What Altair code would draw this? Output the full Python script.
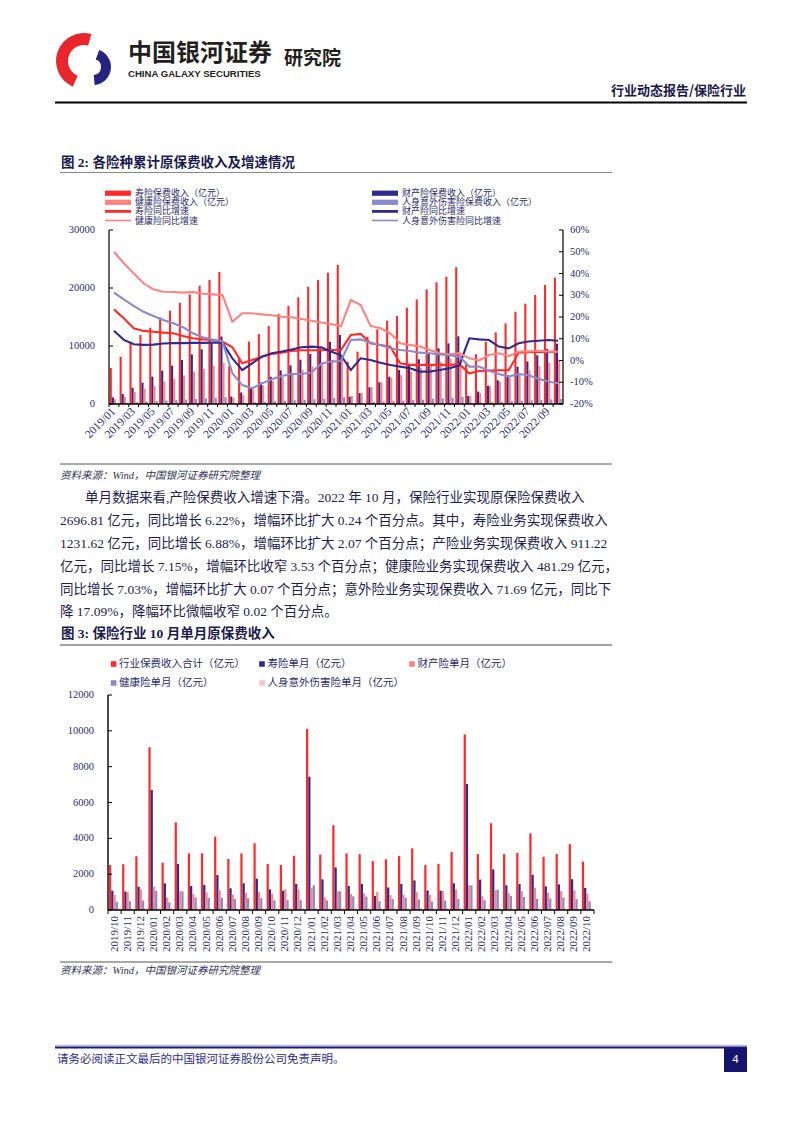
import altair as alt
import pandas as pd

OX, OY = 8, 8
W, H = 786, 1105
def X(v): return v - OX
def Y(v): return v - OY

RED = "#FF2B2B"; NAVY = "#2E2B8C"; SALMON = "#FF8282"; LAV = "#8C8AC8"; LAV2 = "#8D8BC0"; PINK = "#F7C3CB"
AX = "#2B2B6B"
TXT = "#1E1E50"
SERIF = "Liberation Serif, Noto Sans CJK SC"
CJK = "Noto Sans CJK SC"

# ---------------- chart 1 data (cumulative, 亿元 / YoY %) ----------------
months1 = ["2019/01","2019/02","2019/03","2019/04","2019/05","2019/06","2019/07","2019/08","2019/09","2019/10","2019/11","2019/12",
           "2020/01","2020/02","2020/03","2020/04","2020/05","2020/06","2020/07","2020/08","2020/09","2020/10","2020/11","2020/12",
           "2021/01","2021/02","2021/03","2021/04","2021/05","2021/06","2021/07","2021/08","2021/09","2021/10","2021/11","2021/12",
           "2022/01","2022/02","2022/03","2022/04","2022/05","2022/06","2022/07","2022/08","2022/09","2022/10"]
x1_labels = months1[::2]
life_cum = [6200, 8150, 10740, 11900, 13160, 14940, 16090, 17470, 18900, 20400, 21380, 22754,
            6580, 8040, 10760, 12070, 13450, 15520, 16900, 18390, 20230, 21380, 22640, 23982,
            7300, 9020, 11610, 12870, 14370, 15170, 16610, 18050, 19770, 20980, 21950, 23572,
            6880, 8570, 10740, 12360, 13910, 15920, 17300, 18790, 20520, 21780]
prop_cum = [1150, 1720, 2810, 3670, 4710, 5750, 6610, 7590, 8570, 9430, 10460, 11649,
            1280, 1990, 2830, 3700, 4700, 5790, 6660, 7650, 8640, 9600, 10720, 11929,
            1250, 1880, 2870, 3740, 4710, 5860, 6720, 7700, 8740, 9600, 10460, 11671,
            1380, 2150, 3150, 4100, 5000, 6430, 7350, 8400, 9500, 10400]
health_cum = [820, 1240, 2080, 2630, 3180, 3860, 4370, 4950, 5590, 6050, 6540, 7066,
              1070, 1500, 2540, 3240, 3920, 4590, 5200, 5860, 6520, 7060, 7620, 8173,
              1380, 1920, 2960, 3720, 4470, 4960, 5570, 6240, 6830, 7300, 7830, 8447,
              1370, 1920, 3060, 3840, 4560, 5180, 5820, 6520, 7130, 7610]
acc_cum = [120, 210, 320, 420, 510, 600, 680, 770, 870, 960, 1070, 1175,
           110, 190, 290, 380, 470, 560, 650, 740, 840, 930, 1050, 1174,
           120, 210, 320, 410, 500, 590, 680, 770, 870, 960, 1080, 1210,
           120, 200, 300, 390, 470, 560, 640, 720, 800, 870]
life_yoy = [23.5, 19.4, 14.8, 13.6, 13.2, 12.8, 12.5, 11.3, 10.2, 9.7, 9.4, 8.7,
            6.1, -1.3, 0.2, 1.7, 3.0, 3.6, 4.4, 4.7, 4.7, 4.7, 4.8, 4.8,
            11.7, 12.2, 7.9, 7.1, 6.3, -1.3, -2.0, -2.0, -2.0, -2.0, -2.0, -1.7,
            -5.9, -4.8, -4.6, -4.5, -4.5, 3.6, 3.8, 3.9, 3.9, 4.0]
prop_yoy = [13.7, 9.5, 7.5, 7.2, 7.3, 7.8, 8.0, 8.0, 8.1, 8.1, 8.2, 8.2,
            1.0, -4.4, -1.3, 1.8, 3.3, 4.1, 5.1, 6.1, 6.4, 6.1, 4.1, 2.4,
            -4.4, 1.0, 0.2, -1.0, -2.1, -2.8, -3.6, -5.1, -5.1, -4.4, -3.6, -2.2,
            10.2, 9.7, 9.4, 6.4, 5.6, 7.9, 8.7, 9.1, 9.4, 9.1]
health_yoy = [50.0, 44.7, 40.1, 35.5, 32.7, 31.6, 31.5, 31.2, 31.5, 30.7, 30.4, 30.1,
              17.8, 21.7, 21.7, 21.2, 20.8, 20.1, 19.9, 19.1, 18.3, 17.5, 16.8, 15.7,
              27.8, 25.5, 15.9, 14.8, 12.5, 7.9, 7.1, 6.4, 4.8, 3.3, 2.8, 3.4,
              1.0, 0.0, 2.5, 3.3, 2.0, 4.0, 4.2, 4.5, 4.2, 4.0]
acc_yoy = [31.2, 28.1, 25.1, 22.4, 20.5, 18.6, 17.1, 15.3, 12.5, 10.7, 9.7, 8.7,
           -5.9, -11.3, -12.8, -10.5, -8.6, -7.1, -6.2, -6.2, -5.5, -1.5, -0.5, -0.2,
           9.4, 9.7, 8.2, 7.1, 5.6, 4.8, 4.4, 3.6, 3.3, 2.8, 2.4, 1.8,
           -2.8, -2.8, -4.7, -6.2, -7.4, -6.2, -6.8, -8.4, -9.7, -10.5]
ser1b = ["寿险保费收入（亿元）", "财产险保费收入（亿元）", "健康险保费收入（亿元）", "人身意外伤害险保费收入（亿元）"]
ser1l = ["寿险同比增速", "财产险同比增速", "健康险同比增速", "人身意外伤害险同比增速"]
y1_ticks = [0, 10000, 20000, 30000]
y1r_ticks = [-20, -10, 0, 10, 20, 30, 40, 50, 60]

# ---------------- chart 2 data (single month, 亿元) ----------------
months2 = ["2019/10","2019/11","2019/12",
           "2020/01","2020/02","2020/03","2020/04","2020/05","2020/06","2020/07","2020/08","2020/09","2020/10","2020/11","2020/12",
           "2021/01","2021/02","2021/03","2021/04","2021/05","2021/06","2021/07","2021/08","2021/09","2021/10","2021/11","2021/12",
           "2022/01","2022/02","2022/03","2022/04","2022/05","2022/06","2022/07","2022/08","2022/09","2022/10"]
total_m = [2510, 2550, 3000,
           9080, 2640, 4890, 3160, 3160, 4090, 2850, 3160, 3720, 2570, 2510, 3030,
           10100, 3090, 4730, 3160, 3120, 2730, 2830, 3010, 3440, 2510, 2570, 3240,
           9800, 3120, 4840, 3120, 3180, 4280, 2970, 3120, 3680, 2697]
life_m = [1080, 1030, 1300,
          6700, 1490, 2570, 1340, 1400, 1950, 1210, 1490, 1750, 1150, 1080, 1450,
          7440, 1710, 2380, 1340, 1450, 780, 1260, 1450, 1650, 1090, 1080, 1490,
          7030, 1700, 2270, 1380, 1450, 1970, 1320, 1430, 1720, 1232]
prop_m = [850, 1000, 1150,
          1300, 700, 1050, 880, 980, 1100, 860, 960, 1000, 900, 1150, 1150,
          1250, 700, 1050, 900, 920, 1000, 830, 860, 1000, 850, 1050, 1150,
          1380, 770, 1100, 950, 1050, 1250, 950, 1050, 1100, 911]
health_m = [460, 490, 530,
            1070, 430, 1040, 700, 680, 670, 610, 660, 660, 540, 560, 550,
            1380, 540, 1040, 760, 750, 490, 610, 670, 590, 470, 530, 620,
            1370, 550, 1140, 780, 720, 620, 640, 700, 610, 481]
acc_m = [90, 110, 105,
         110, 80, 100, 90, 90, 90, 90, 90, 100, 90, 120, 124,
         120, 90, 110, 90, 90, 90, 90, 90, 100, 90, 120, 130,
         120, 80, 100, 90, 80, 90, 80, 80, 80, 72]
ser2 = ["行业保费收入合计（亿元）", "寿险单月（亿元）", "财产险单月（亿元）", "健康险单月（亿元）", "人身意外伤害险单月（亿元）"]
y2_ticks = [0, 2000, 4000, 6000, 8000, 10000, 12000]

# ---------------- tables ----------------
df1b = pd.DataFrame([{"m": m, "s": s, "v": v}
                     for s, arr in zip(ser1b, [life_cum, prop_cum, health_cum, acc_cum])
                     for m, v in zip(months1, arr)])
df1l = pd.DataFrame([{"m": m, "s": s, "p": v}
                     for s, arr in zip(ser1l, [life_yoy, prop_yoy, health_yoy, acc_yoy])
                     for m, v in zip(months1, arr)])
df2 = pd.DataFrame([{"m": m, "s": s, "v": v}
                    for s, arr in zip(ser2, [total_m, life_m, prop_m, health_m, acc_m])
                    for m, v in zip(months2, arr)])
one = pd.DataFrame({"k": [0]})

# ---------------- helpers ----------------
def T(s, x, y, size=12, color=TXT, align="left", weight="normal", font=SERIF, style="normal", baseline="middle"):
    return alt.Chart(one).mark_text(text=s, align=align, baseline=baseline, fontSize=size, color=color,
                                    font=font, fontWeight=weight, fontStyle=style).encode(
        x=alt.value(X(x)), y=alt.value(Y(y)))

def HL(x1, x2, y, color="#000000", w=1.0):
    return alt.Chart(one).mark_rule(color=color, strokeWidth=w).encode(
        x=alt.value(X(x1)), x2=alt.value(X(x2)), y=alt.value(Y(y)))

def VLN(x, y1, y2, color="#000000", w=1.0):
    return alt.Chart(one).mark_rule(color=color, strokeWidth=w).encode(
        x=alt.value(X(x)), y=alt.value(Y(y1)), y2=alt.value(Y(y2)))

def R(x1, y1, x2, y2, color):
    return alt.Chart(one).mark_rect(color=color).encode(
        x=alt.value(X(x1)), x2=alt.value(X(x2)), y=alt.value(Y(y1)), y2=alt.value(Y(y2)))

def ARC(cx, cy, r_in, r_out, t1, t2, color):
    return alt.Chart(one).mark_arc(color=color, radius=r_out, radius2=r_in, theta=t1, theta2=t2).encode(
        x=alt.value(X(cx)), y=alt.value(Y(cy)))

def band1(pi=0.15, po=0.075):
    return alt.Scale(type="band", domain=months1, range=[X(109), X(563)], paddingInner=pi, paddingOuter=po)

def band2(pi=0.15, po=0.075):
    return alt.Scale(type="band", domain=months2, range=[X(108), X(594)], paddingInner=pi, paddingOuter=po)

Y1L = alt.Scale(domain=[0, 30000], range=[Y(404), Y(230)], nice=False, zero=False)
Y1R = alt.Scale(domain=[-20, 60], range=[Y(404), Y(230)], nice=False, zero=False)
Y2 = alt.Scale(domain=[0, 12000], range=[Y(910), Y(695)], nice=False, zero=False)

L = []

# ---------------- header ----------------
L += [ARC(84, 61, 16, 28, 3.55, 6.55, "#E8262B"),
      ARC(93, 67, 8, 18, 0.35, 3.05, "#27237E"),
      T("中国银河证券", 128, 54, size=24, color="#231F20", weight="bold", font=CJK),
      T("CHINA GALAXY SECURITIES", 128, 73.5, size=9.6, color="#231F20", weight="bold", font="Liberation Sans"),
      T("研究院", 284, 59, size=19, color="#231F20", weight="bold", font=CJK),
      T("行业动态报告/保险行业", 746, 91, size=13, color="#1A1A4A", weight="bold", font=CJK, align="right"),
      HL(55, 747, 102.5, "#000000", 2)]

# ---------------- figure 2 ----------------
L += [T("图 2: 各险种累计原保费收入及增速情况", 61, 163, size=13.5, color="#1A1A4E", weight="bold"),
      HL(60, 612, 172.5, "#8A8A8A", 1)]
# legend
LG = [193.2, 202.3, 211.4, 220.5]
FS = 9.0
L += [R(105, LG[0] - 2.6, 131, LG[0] + 2.6, RED), T(ser1b[0], 135, LG[0], size=FS, color=AX),
      R(105, LG[1] - 2.6, 131, LG[1] + 2.6, SALMON), T(ser1b[2], 135, LG[1], size=FS, color=AX),
      HL(105, 131, LG[2], RED, 2.8), T(ser1l[0], 135, LG[2], size=FS, color=AX),
      HL(105, 131, LG[3], SALMON, 1.6), T(ser1l[2], 135, LG[3], size=FS, color=AX),
      R(372, LG[0] - 2.6, 398, LG[0] + 2.6, NAVY), T(ser1b[1], 402, LG[0], size=FS, color=AX),
      R(372, LG[1] - 2.6, 398, LG[1] + 2.6, LAV), T(ser1b[3], 402, LG[1], size=FS, color=AX),
      HL(372, 398, LG[2], NAVY, 2.8), T(ser1l[1], 402, LG[2], size=FS, color=AX),
      HL(372, 398, LG[3], LAV, 1.6), T(ser1l[3], 402, LG[3], size=FS, color=AX)]

bars1 = alt.Chart(df1b).mark_bar().encode(
    x=alt.X("m:N", scale=band1(), axis=None),
    xOffset=alt.XOffset("s:N", scale=alt.Scale(domain=ser1b)),
    y=alt.Y("v:Q", scale=Y1L, axis=None),
    color=alt.Color("s:N", scale=alt.Scale(domain=ser1b, range=[RED, NAVY, SALMON, LAV]), legend=None))
lines1 = alt.Chart(df1l).mark_line(strokeWidth=2.1).encode(
    x=alt.X("m:N", scale=band1(), axis=None, bandPosition=0.5),
    y=alt.Y("p:Q", scale=Y1R, axis=None),
    color=alt.Color("s:N", scale=alt.Scale(domain=ser1l, range=[RED, NAVY, SALMON, LAV]), legend=None))
L += [bars1, lines1]

# axes chart 1
L += [VLN(109, 230, 404, "#000000", 1.2), VLN(563, 230, 404, "#000000", 1.2), HL(109, 563, 404, "#000000", 1.4)]
L += [alt.Chart(pd.DataFrame({"v": y1_ticks})).mark_rule(color="#000000", strokeWidth=1).encode(
          x=alt.value(X(109)), x2=alt.value(X(113)), y=alt.Y("v:Q", scale=Y1L, axis=None)),
      alt.Chart(pd.DataFrame({"v": y1_ticks})).mark_text(align="right", baseline="middle", fontSize=10.5,
                                                          font=SERIF, color=AX).encode(
          x=alt.value(X(95)), y=alt.Y("v:Q", scale=Y1L, axis=None), text=alt.Text("v:Q", format="d")),
      alt.Chart(pd.DataFrame({"p": y1r_ticks, "lab": [f"{t}%" for t in y1r_ticks]})).mark_rule(
          color="#000000", strokeWidth=1).encode(
          x=alt.value(X(559)), x2=alt.value(X(563)), y=alt.Y("p:Q", scale=Y1R, axis=None)),
      alt.Chart(pd.DataFrame({"p": y1r_ticks, "lab": [f"{t}%" for t in y1r_ticks]})).mark_text(
          align="left", baseline="middle", fontSize=10.5, font=SERIF, color=AX).encode(
          x=alt.value(X(570)), y=alt.Y("p:Q", scale=Y1R, axis=None), text="lab:N"),
      alt.Chart(pd.DataFrame({"m": months1})).mark_rule(color="#000000", strokeWidth=1).encode(
          x=alt.X("m:N", scale=band1(0, 0), axis=None, bandPosition=0),
          y=alt.value(Y(404)), y2=alt.value(Y(407))),
      alt.Chart(pd.DataFrame({"m": x1_labels})).mark_text(
          angle=315, align="right", baseline="middle", fontSize=11.5, font=SERIF, color=AX).encode(
          x=alt.X("m:N", scale=band1(), axis=None, bandPosition=0.5),
          y=alt.value(Y(410)), text="m:N")]

L += [HL(60, 612, 464, "#555555", 1),
      T("资料来源：Wind，中国银河证券研究院整理", 60, 476, size=10.5, color="#333355", style="italic")]

# ---------------- paragraph ----------------
para = ["单月数据来看,产险保费收入增速下滑。2022 年 10 月，保险行业实现原保险保费收入",
        "2696.81 亿元，同比增长 6.22%，增幅环比扩大 0.24 个百分点。其中，寿险业务实现保费收入",
        "1231.62 亿元，同比增长 6.88%，增幅环比扩大 2.07 个百分点；产险业务实现保费收入 911.22",
        "亿元，同比增长 7.15%，增幅环比收窄 3.53 个百分点；健康险业务实现保费收入 481.29 亿元，",
        "同比增长 7.03%，增幅环比扩大 0.07 个百分点；意外险业务实现保费收入 71.69 亿元，同比下",
        "降 17.09%，降幅环比微幅收窄 0.02 个百分点。"]
para_y = [498, 521, 544, 567, 590, 612]
for i, (s, yy) in enumerate(zip(para, para_y)):
    L.append(T(s, 85 if i == 0 else 60, yy, size=13.5, color=TXT))

# ---------------- figure 3 ----------------
L += [T("图 3: 保险行业 10 月单月原保费收入", 61, 634, size=13.5, color="#1A1A4E", weight="bold"),
      HL(60, 612, 645, "#444444", 1)]
leg2 = [(113.6, 664, ser2[0], RED), (262, 664, ser2[1], NAVY), (412, 664, ser2[2], SALMON),
        (113.6, 683, ser2[3], LAV2), (262, 683, ser2[4], PINK)]
for lx, ly, s, c in leg2:
    L += [R(lx - 2.8, ly - 2.8, lx + 2.8, ly + 2.8, c), T(s, lx + 5.5, ly, size=10.5, color=AX)]

bars2 = alt.Chart(df2).mark_bar().encode(
    x=alt.X("m:N", scale=band2(), axis=None),
    xOffset=alt.XOffset("s:N", scale=alt.Scale(domain=ser2)),
    y=alt.Y("v:Q", scale=Y2, axis=None),
    color=alt.Color("s:N", scale=alt.Scale(domain=ser2, range=[RED, NAVY, SALMON, LAV2, PINK]), legend=None))
L += [bars2]
L += [VLN(108, 695, 910, "#000000", 1.4), HL(108, 594, 910, "#000000", 1.6),
      VLN(594, 910, 914, "#000000", 1),
      alt.Chart(pd.DataFrame({"v": y2_ticks})).mark_rule(color="#000000", strokeWidth=1).encode(
          x=alt.value(X(108)), x2=alt.value(X(112)), y=alt.Y("v:Q", scale=Y2, axis=None)),
      alt.Chart(pd.DataFrame({"v": y2_ticks})).mark_text(align="right", baseline="middle", fontSize=10.5,
                                                          font=SERIF, color=AX).encode(
          x=alt.value(X(94)), y=alt.Y("v:Q", scale=Y2, axis=None), text=alt.Text("v:Q", format="d")),
      alt.Chart(pd.DataFrame({"m": months2})).mark_rule(color="#000000", strokeWidth=1).encode(
          x=alt.X("m:N", scale=band2(0, 0), axis=None, bandPosition=0),
          y=alt.value(Y(910)), y2=alt.value(Y(914))),
      alt.Chart(pd.DataFrame({"m": months2})).mark_text(
          angle=270, align="right", baseline="middle", fontSize=11, font=SERIF, color=AX).encode(
          x=alt.X("m:N", scale=band2(), axis=None, bandPosition=0.5),
          y=alt.value(Y(916)), text="m:N")]
L += [HL(60, 612, 962, "#555555", 1),
      T("资料来源：Wind，中国银河证券研究院整理", 60, 971, size=10.5, color="#333355", style="italic")]

# ---------------- footer ----------------
L += [HL(55, 747, 1045.5, "#B8B8E8", 1.5), HL(55, 747, 1047.5, "#1A1A6E", 2),
      T("请务必阅读正文最后的中国银河证券股份公司免责声明。", 57, 1060, size=11.5, color="#2D2D8A"),
      R(724, 1048, 747, 1072, "#14146E"),
      T("4", 735.5, 1060, size=11.5, color="#FFFFFF", align="center", font="Liberation Sans")]

chart = alt.layer(*L).resolve_scale(
    x="independent", y="independent", color="independent", xOffset="independent"
).properties(
    width=W, height=H, padding=0, autosize=alt.AutoSizeParams(type="none")
).configure_view(stroke=None)

chart.save("out.html", embed_options={"renderer": "svg", "actions": False})
